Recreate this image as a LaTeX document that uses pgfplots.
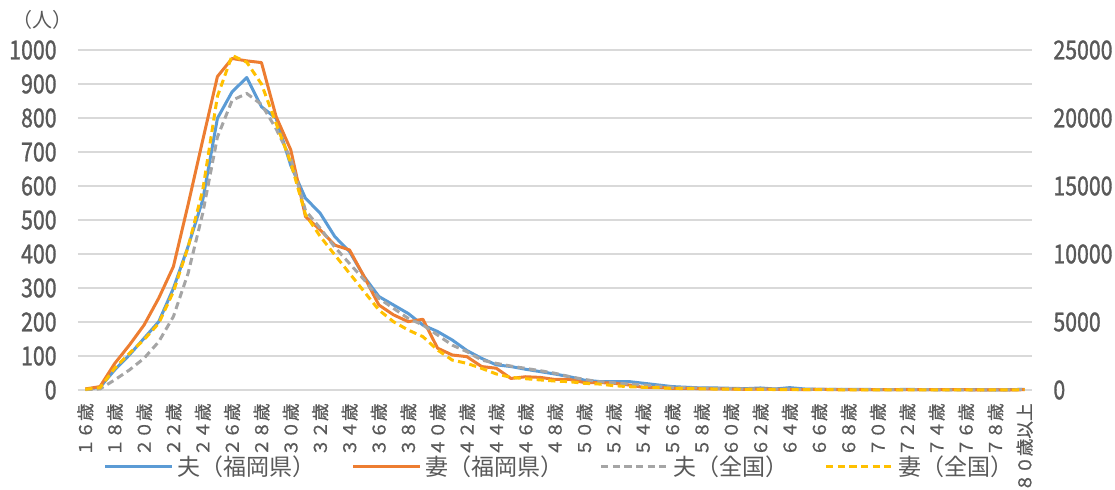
\documentclass[border=0pt]{standalone}
\usepackage{pgfplots}
\usepackage{pgfplotstable}
\pgfplotsset{compat=1.18}
\usepackage{fontspec}
\setmainfont{Noto Sans CJK JP}
\newfontfamily\numfont{Noto Sans CJK JP}[FakeStretch=0.82, FakeBold=1.2]
\newfontfamily\lblfont{Noto Sans CJK JP}[FakeBold=0.8]
\definecolor{cBlue}{HTML}{5B9BD5}
\definecolor{cOrange}{HTML}{ED7D31}
\definecolor{cGray}{HTML}{A5A5A5}
\definecolor{cYellow}{HTML}{FFC000}
\definecolor{txt}{HTML}{595959}
\definecolor{gridc}{HTML}{D9D9D9}

\pgfplotstableread{
i a b c d
0 2 3 30 50
1 8 10 80 170
2 59 78 740 1600
3 103 132 1470 2700
4 152 191 2330 3700
5 201 270 3550 4900
6 299 363 5400 7230
7 422 545 8580 10500
8 559 735 13000 14700
9 799 922 18600 21600
10 877 975 21300 24600
11 919 968 21800 24100
12 833 963 21000 22500
13 799 804 19200 19600
14 660 706 17000 16700
15 564 510 13200 12900
16 520 471 11900 11300
17 451 426 10500 9930
18 407 412 9300 8580
19 333 333 8100 7230
20 275 250 6740 5880
21 250 221 6000 5020
22 225 201 5270 4410
23 191 208 4780 3920
24 172 123 4040 2940
25 147 103 3300 2200
26 116 98 2820 1960
27 93 69 2200 1590
28 74 64 1960 1180
29 69 34 1760 930
30 61 39 1590 830
31 54 37 1420 740
32 47 31 1230 660
33 39 31 980 610
34 29 22 780 490
35 25 22 610 440
36 25 20 540 320
37 25 15 440 245
38 20 8 370 200
39 15 8 290 170
40 10 5 200 120
41 8 5 170 100
42 6 4 140 85
43 6 3 120 70
44 5 3 100 60
45 4 2 85 50
46 6 3 75 42
47 3 2 65 36
48 7 2 55 30
49 3 1 50 26
50 2 2 45 22
51 2 1 40 19
52 2 1 35 17
53 2 1 30 15
54 1 1 28 13
55 1 1 25 11
56 2 1 22 10
57 1 1 20 9
58 1 1 18 8
59 1 1 16 7
60 1 1 15 6
61 1 0 13 5
62 0 1 12 5
63 1 0 11 4
64 2 1 60 30
}\datatab

\begin{document}
\begin{tikzpicture}
\pgfplotsset{
  common/.style={
    at={(0,0)}, anchor=south west,
    width=477pt, height=170pt, scale only axis,
    xmin=-0.5, xmax=64.5,
    major tick length=0pt,
    axis line style={draw=none},
    scaled y ticks=false,
    /pgf/number format/assume math mode=true,
    /pgf/number format/set thousands separator={},
    yticklabel style={font=\numfont\fontsize{13}{14}\selectfont, text=txt, inner sep=0pt},
    clip=false,
  },
  lw/.style={line width=1.5pt, line join=round},
  dsh/.style={line width=1.5pt, dash pattern=on 3.6pt off 2.2pt},
}
\begin{axis}[common,
  ymin=0, ymax=1000, ytick={0,100,...,1000},
  ymajorgrids, grid style={draw=gridc, line width=0.75pt},
  yticklabel style={anchor=east, xshift=-10.5pt},
  xtick={0,2,...,64},
  xticklabels={１６歳,１８歳,２０歳,２２歳,２４歳,２６歳,２８歳,３０歳,３２歳,３４歳,３６歳,３８歳,４０歳,４２歳,４４歳,４６歳,４８歳,５０歳,５２歳,５４歳,５６歳,５８歳,６０歳,６２歳,６４歳,６６歳,６８歳,７０歳,７２歳,７４歳,７６歳,７８歳,８０歳以上},
  xticklabel style={rotate=90, anchor=east, font=\lblfont\fontsize{8.8}{9}\selectfont, text=txt, inner sep=0pt},
  xticklabel shift=6.5pt,
]
\addplot[cBlue, lw] table[x=i, y=a] {\datatab};
\addplot[cOrange, lw] table[x=i, y=b] {\datatab};
\end{axis}
\begin{axis}[common,
  ymin=0, ymax=25000, ytick={0,5000,...,25000},
  axis y line*=right, hide x axis,
  y axis line style={draw=none},
  yticklabel style={anchor=west, xshift=10.5pt},
  legend columns=4,
  legend style={at={(0.506,-0.226)}, anchor=center, draw=none, fill=none,
    font=\fontsize{11.5}{13}\selectfont, text=txt,
    /tikz/every even column/.append style={column sep=16pt}},
  legend image code/.code={\draw[#1] (0pt,0pt) -- (33.5pt,0pt);},
]
\addlegendimage{cBlue, lw}
\addlegendentry{夫（福岡県）}
\addlegendimage{cOrange, lw}
\addlegendentry{妻（福岡県）}
\addplot[cGray, dsh] table[x=i, y=c] {\datatab};
\addlegendentry{夫（全国）}
\addplot[cYellow, dsh] table[x=i, y=d] {\datatab};
\addlegendentry{妻（全国）}
\end{axis}
\node[font=\fontsize{10}{11}\selectfont, text=txt] at (-17.5pt,185pt) {（人）};
\pgfresetboundingbox
\useasboundingbox (-39pt,-49.5pt) rectangle (518.5pt,195pt);
\end{tikzpicture}
\end{document}
